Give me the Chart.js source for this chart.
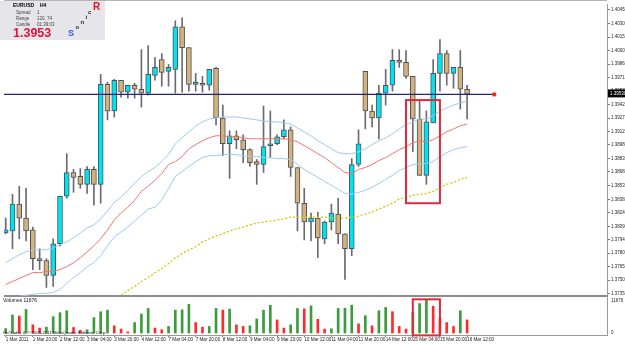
<!DOCTYPE html>
<html>
<head>
<meta charset="utf-8">
<title>EURUSD H4</title>
<script src="https://cdn.jsdelivr.net/npm/chart.js@4.4.1/dist/chart.umd.min.js"></script>
<style>
  html, body { margin: 0; padding: 0; background: #fff; }
  canvas { display: block; }
</style>
</head>
<body>
<canvas id="chart" width="625" height="344"></canvas>
<script>
// EURUSD H4, 1 Mar - 16 Mar 2011, one entry per bar (bar 0 .. 68)
const opens = [1.38020, 1.38042, 1.38334, 1.38182, 1.38053, 1.37740, 1.37718, 1.37556, 1.37902, 1.38420,
  1.38679, 1.38636, 1.38550, 1.38712, 1.38550, 1.39640, 1.39349, 1.39684, 1.39554, 1.39630,
  1.39586, 1.39543, 1.39738, 1.39910, 1.39781, 1.39802, 1.40267, 1.40040, 1.39640, 1.39651,
  1.39630, 1.39813, 1.39273, 1.38992, 1.39079, 1.39036, 1.38928, 1.38798, 1.38766, 1.38971,
  1.38992, 1.39068, 1.39144, 1.38733, 1.38344, 1.38139, 1.38182, 1.37956, 1.38139, 1.38226,
  1.38010, 1.37848, 1.38766, 1.39781, 1.39349, 1.39273, 1.39543, 1.39630, 1.39900, 1.39878,
  1.39727, 1.39262, 1.38647, 1.39219, 1.39759, 1.39975, 1.39759, 1.39824, 1.39586]
const highs = [1.38182, 1.38442, 1.38528, 1.38506, 1.38085, 1.37848, 1.37740, 1.37956, 1.38420, 1.38884,
  1.38712, 1.38722, 1.38744, 1.38744, 1.39748, 1.39662, 1.39694, 1.39684, 1.39630, 1.39651,
  1.40018, 1.40062, 1.39932, 1.39975, 1.39856, 1.40332, 1.40364, 1.40040, 1.39759, 1.39727,
  1.39802, 1.39824, 1.39414, 1.39133, 1.39133, 1.39090, 1.38938, 1.38820, 1.39403, 1.39349,
  1.39090, 1.39252, 1.39176, 1.38733, 1.38506, 1.38236, 1.38247, 1.38150, 1.38334, 1.38398,
  1.38010, 1.38830, 1.39144, 1.39781, 1.39414, 1.39630, 1.39802, 1.40018, 1.40018, 1.40008,
  1.39727, 1.39468, 1.39349, 1.39910, 1.40126, 1.40008, 1.39824, 1.40008, 1.39630]
const lows = [1.38010, 1.37848, 1.37956, 1.37934, 1.37621, 1.37621, 1.37426, 1.37437, 1.37880, 1.38398,
  1.38463, 1.38506, 1.38452, 1.38323, 1.38344, 1.39252, 1.39284, 1.39500, 1.39489, 1.39489,
  1.39392, 1.39522, 1.39684, 1.39619, 1.39619, 1.39543, 1.39554, 1.39565, 1.39565, 1.39554,
  1.39576, 1.39198, 1.38863, 1.38614, 1.38938, 1.38787, 1.38744, 1.38550, 1.38679, 1.38841,
  1.38982, 1.39046, 1.38636, 1.38042, 1.37945, 1.37934, 1.37750, 1.37902, 1.38053, 1.37902,
  1.37513, 1.37772, 1.38744, 1.39154, 1.39176, 1.39046, 1.39414, 1.39565, 1.39824, 1.39705,
  1.38906, 1.38647, 1.38550, 1.39219, 1.39565, 1.39630, 1.39597, 1.39370, 1.39262]
const closes = [1.38053, 1.38334, 1.38182, 1.38042, 1.37740, 1.37718, 1.37556, 1.37902, 1.38420, 1.38679,
  1.38625, 1.38550, 1.38712, 1.38550, 1.39640, 1.39349, 1.39684, 1.39554, 1.39630, 1.39586,
  1.39543, 1.39748, 1.39824, 1.39770, 1.39824, 1.40267, 1.40040, 1.39640, 1.39662, 1.39630,
  1.39802, 1.39273, 1.38992, 1.39079, 1.39036, 1.38928, 1.38787, 1.38766, 1.38960, 1.38992,
  1.39068, 1.39144, 1.38733, 1.38344, 1.38139, 1.38182, 1.37966, 1.38139, 1.38236, 1.38010,
  1.37848, 1.38766, 1.38992, 1.39349, 1.39273, 1.39543, 1.39630, 1.39900, 1.39878, 1.39727,
  1.39262, 1.38647, 1.39230, 1.39759, 1.39975, 1.39759, 1.39824, 1.39586, 1.39532]
const volumes = [1500, 6058, 5728, 7931, 2754, 1652, 1983, 5508, 6829, 7490,
  1873, 881, 1102, 5177, 7160, 7711, 2423, 1322, 400, 3525,
  6389, 8261, 1652, 1102, 2203, 7711, 7800, 9693, 3525, 1983,
  2203, 8261, 7711, 8041, 2754, 2203, 2423, 4736, 7711, 9363,
  4406, 1652, 2754, 8261, 8150, 9142, 4626, 1322, 1432, 8261,
  8350, 9363, 3084, 5838, 2423, 7490, 8592, 7160, 2203, 1322,
  7000, 9913, 11235, 9032, 5000, 3525, 2203, 7490, 4406]

// envelope around the mid average, plus the slow average
const upperBand = [1.37696, 1.37740, 1.37783, 1.37815, 1.37837, 1.37837, 1.37837, 1.37858, 1.37891, 1.37923,
  1.37966, 1.38020, 1.38074, 1.38107, 1.38172, 1.38258, 1.38355, 1.38409, 1.38485, 1.38560,
  1.38636, 1.38690, 1.38733, 1.38798, 1.38874, 1.38992, 1.39057, 1.39122, 1.39187, 1.39230,
  1.39262, 1.39273, 1.39284, 1.39284, 1.39284, 1.39273, 1.39262, 1.39252, 1.39241, 1.39230,
  1.39230, 1.39219, 1.39208, 1.39165, 1.39122, 1.39079, 1.39025, 1.38982, 1.38938, 1.38895,
  1.38884, 1.38884, 1.38906, 1.38938, 1.38982, 1.39025, 1.39057, 1.39100, 1.39154, 1.39198,
  1.39230, 1.39262, 1.39262, 1.39295, 1.39349, 1.39381, 1.39414, 1.39435, 1.39457]
const middleBand = [1.37459, 1.37491, 1.37524, 1.37556, 1.37588, 1.37588, 1.37599, 1.37599, 1.37621, 1.37653,
  1.37696, 1.37750, 1.37815, 1.37880, 1.37956, 1.38053, 1.38161, 1.38236, 1.38301, 1.38377,
  1.38474, 1.38528, 1.38593, 1.38668, 1.38766, 1.38798, 1.38852, 1.38938, 1.38982, 1.39025,
  1.39057, 1.39079, 1.39079, 1.39068, 1.39068, 1.39057, 1.39046, 1.39046, 1.39046, 1.39046,
  1.39046, 1.39046, 1.39036, 1.39014, 1.38971, 1.38928, 1.38884, 1.38841, 1.38787, 1.38733,
  1.38679, 1.38668, 1.38712, 1.38733, 1.38766, 1.38809, 1.38841, 1.38884, 1.38928, 1.38960,
  1.39003, 1.39025, 1.39014, 1.39036, 1.39079, 1.39122, 1.39154, 1.39187, 1.39208]
const lowerBand = [1.37286, 1.37308, 1.37329, 1.37340, 1.37351, 1.37362, 1.37362, 1.37372, 1.37405, 1.37470,
  1.37534, 1.37588, 1.37653, 1.37696, 1.37772, 1.37880, 1.37977, 1.38031, 1.38085, 1.38150,
  1.38215, 1.38280, 1.38301, 1.38377, 1.38506, 1.38636, 1.38690, 1.38744, 1.38798, 1.38841,
  1.38863, 1.38863, 1.38874, 1.38874, 1.38874, 1.38863, 1.38852, 1.38852, 1.38841, 1.38841,
  1.38830, 1.38830, 1.38820, 1.38766, 1.38712, 1.38668, 1.38625, 1.38582, 1.38539, 1.38496,
  1.38452, 1.38442, 1.38463, 1.38485, 1.38517, 1.38560, 1.38604, 1.38647, 1.38701, 1.38733,
  1.38766, 1.38776, 1.38776, 1.38798, 1.38852, 1.38895, 1.38928, 1.38949, 1.38960]
const slowMa = [null, null, null, null, null, null, null, null, null, null,
  null, null, null, null, null, null, 1.37297, 1.37340, 1.37394, 1.37437,
  1.37491, 1.37534, 1.37588, 1.37632, 1.37686, 1.37750, 1.37794, 1.37837, 1.37869, 1.37923,
  1.37956, 1.37988, 1.38010, 1.38042, 1.38064, 1.38085, 1.38107, 1.38128, 1.38139, 1.38150,
  1.38161, 1.38172, 1.38193, 1.38193, 1.38193, 1.38193, 1.38193, 1.38193, 1.38182, 1.38182,
  1.38182, 1.38193, 1.38204, 1.38226, 1.38247, 1.38280, 1.38312, 1.38344, 1.38388, 1.38409,
  1.38431, 1.38442, 1.38452, 1.38474, 1.38517, 1.38550, 1.38571, 1.38604, 1.38625]

const timeLabels = ['1 Mar 2011', '1 Mar 20:00', '2 Mar 12:00', '3 Mar 04:00', '3 Mar 20:00', '4 Mar 12:00',
  '7 Mar 04:00', '7 Mar 20:00', '8 Mar 12:00', '9 Mar 04:00', '9 Mar 20:00', '10 Mar 12:00',
  '11 Mar 04:00', '11 Mar 20:00', '14 Mar 12:00', '15 Mar 04:00', '15 Mar 20:00', '16 Mar 12:00']
const timeTickBars = [0, 4, 8, 12, 16, 20, 24, 28, 32, 36, 40, 44, 48, 52, 56, 60, 64, 68]
const priceTicks = [1.40450, 1.40300, 1.40155, 1.40005, 1.39860, 1.39715, 1.39570, 1.39420, 1.39270, 1.39125,
  1.38980, 1.38830, 1.38685, 1.38535, 1.38385, 1.38240, 1.38090, 1.37945, 1.37800, 1.37650, 1.37505, 1.37355]
const lastPrice = 1.3953
const volumeScaleMax = 11676

// marked zones (bars / prices / volumes)
const zoneMain = { fromBar: 59, toBar: 64, high: 1.39468, low: 1.38344 }
const zoneVolume = { fromBar: 60, toBar: 64, high: 11342, low: -800 }
const priceLineEndBar = 72

const FONT = "'Liberation Sans', Arial, sans-serif"
const panelClip = { left: 0, top: 0, right: 0, bottom: -39 }

const bull = '#00e3ee'
const bear = '#d4b27c'
const bars = opens.map((o, i) => i)

const chrome = {
  id: 'chrome',
  beforeDatasetsDraw(chart) {
    const { ctx, chartArea: a } = chart
    ctx.save()
    ctx.fillStyle = '#8c8c8c'
    ctx.fillRect(a.left, a.bottom - 40, a.right - a.left, 2)
    ctx.fillStyle = '#b4b4b4'
    ctx.fillRect(a.left, 0, a.right - a.left, 1)
    ctx.restore()
  },
  afterDraw(chart) {
    const { ctx, scales: { x, y, yv } } = chart
    ctx.save()

    // marked zones
    ctx.strokeStyle = '#e3283c'
    ctx.lineWidth = 2
    ;[[zoneMain, y], [zoneVolume, yv]].forEach(([z, s]) => {
      const x0 = x.getPixelForValue(z.fromBar)
      const x1 = x.getPixelForValue(z.toBar)
      const y0 = s.getPixelForValue(z.high)
      const y1 = s.getPixelForValue(z.low)
      ctx.strokeRect(x0, y0, x1 - x0, y1 - y0)
    })

    // bid label on the price axis
    const py = y.getPixelForValue(lastPrice)
    ctx.fillStyle = '#000'
    ctx.fillRect(608, py - 5, 17, 8)
    ctx.fillStyle = '#fff'
    ctx.font = `4.5px ${FONT}`
    ctx.textBaseline = 'middle'
    ctx.fillText(lastPrice.toFixed(5), 610, py - 1)

    // volume window labels
    ctx.fillStyle = '#222'
    ctx.fillText(String(volumeScaleMax), 611, yv.getPixelForValue(volumeScaleMax) + 2)
    ctx.fillText('0', 611, yv.getPixelForValue(0))
    ctx.font = `5px ${FONT}`
    ctx.fillStyle = '#111'
    ctx.fillText('Volumes ' + volumeScaleMax, 3, 301)
    ctx.font = `4.3px ${FONT}`
    ctx.fillText('GoTrader 4, \u00a9 2001-2011 MetaQuotes Software Corp.', 3, 332.5)

    // info box
    ctx.fillStyle = '#e6e6ea'
    ctx.fillRect(0, 1, 105, 39)
    ctx.fillStyle = '#000'
    ctx.font = `bold 5px ${FONT}`
    ctx.fillText('EURUSD', 13, 6)
    ctx.fillText('H4', 40, 6)
    ctx.fillStyle = '#444'
    ctx.font = `4.5px ${FONT}`
    ctx.fillText('Spread', 16, 12.5)
    ctx.fillText('1', 37, 12.5)
    ctx.fillText('Range', 16, 18.5)
    ctx.fillText('120, 74', 37, 18.5)
    ctx.fillText('Candle', 16, 24.5)
    ctx.fillText('01:39:03', 37, 24.5)
    ctx.fillStyle = '#e0123a'
    ctx.font = `bold 12.5px ${FONT}`
    ctx.fillText(lastPrice.toFixed(4), 13, 33.5)
    ctx.fillStyle = '#3a50e6'
    ctx.font = `bold 9px ${FONT}`
    ctx.fillText('S', 68, 33.5)
    ctx.fillStyle = '#222'
    ctx.font = `bold 6px ${FONT}`
    ctx.fillText('o', 75.5, 27.5)
    ctx.fillText('n', 80.5, 22.5)
    ctx.fillText('i', 85.5, 17)
    ctx.fillText('c', 88, 12)
    ctx.fillStyle = '#e8101e'
    ctx.font = `bold 10px ${FONT}`
    ctx.fillText('R', 93, 7)
    ctx.restore()
  }
}

new Chart(document.getElementById('chart'), {
  type: 'bar',
  data: {
    datasets: [
      {
        type: 'line',
        data: [{ x: -0.25, y: lastPrice }, { x: priceLineEndBar, y: lastPrice }],
        borderColor: '#23237a',
        borderWidth: 1.3,
        pointRadius: [0, 2.2],
        pointBackgroundColor: '#ff2a00',
        pointBorderWidth: 0,
        order: 0
      },
      {
        type: 'line',
        data: bars.map(i => ({ x: i, y: upperBand[i] })),
        borderColor: '#9cc9f2',
        borderWidth: 1,
        pointRadius: 0,
        clip: panelClip,
        order: 1
      },
      {
        type: 'line',
        data: bars.map(i => ({ x: i, y: middleBand[i] })),
        borderColor: '#f0766a',
        borderWidth: 1,
        pointRadius: 0,
        clip: panelClip,
        order: 1
      },
      {
        type: 'line',
        data: bars.map(i => ({ x: i, y: lowerBand[i] })),
        borderColor: '#9cc9f2',
        borderWidth: 1,
        pointRadius: 0,
        clip: panelClip,
        order: 1
      },
      {
        type: 'line',
        data: bars.map(i => ({ x: i, y: slowMa[i] })),
        borderColor: '#cfc800',
        borderWidth: 1.3,
        borderDash: [2, 2],
        pointRadius: 0,
        clip: panelClip,
        order: 2
      },
      {
        data: bars.map(i => ({ x: i, y: [opens[i], closes[i]] })),
        backgroundColor: bars.map(i => (closes[i] >= opens[i] ? bull : bear)),
        borderColor: '#505058',
        borderWidth: 1,
        borderSkipped: false,
        barThickness: 5,
        grouped: false,
        clip: panelClip,
        order: 4
      },
      {
        data: bars.map(i => ({ x: i, y: [lows[i], highs[i]] })),
        backgroundColor: '#6a6a74',
        barThickness: 1,
        grouped: false,
        clip: panelClip,
        order: 5
      },
      {
        yAxisID: 'yv',
        data: bars.map(i => ({ x: i, y: volumes[i] })),
        backgroundColor: bars.map(i => (i === 0 || volumes[i] > volumes[i - 1] ? '#3a9c3a' : '#ff2b2b')),
        barThickness: 2,
        grouped: false,
        order: 6
      }
    ]
  },
  options: {
    responsive: false,
    animation: false,
    events: [],
    layout: { padding: { top: 1, left: 0, right: 0, bottom: 0 } },
    plugins: { legend: { display: false }, tooltip: { enabled: false } },
    scales: {
      x: {
        type: 'linear',
        min: -0.25,
        max: 88.62,
        offset: false,
        afterBuildTicks: s => { s.ticks = timeTickBars.map(v => ({ value: v })) },
        afterFit: s => { s.height = 9; s.paddingLeft = 0; s.paddingRight = 0 },
        ticks: {
          autoSkip: false,
          maxRotation: 0,
          minRotation: 0,
          align: 'start',
          padding: 0,
          color: '#222',
          font: { size: 4.6, family: FONT },
          callback: (v, i) => timeLabels[i]
        },
        grid: { drawOnChartArea: false, offset: false, tickLength: 2, color: '#777' },
        border: { color: '#9a9a9a', dash: [1, 1] }
      },
      y: {
        position: 'right',
        min: 1.36908,
        max: 1.40515,
        afterBuildTicks: s => { s.ticks = priceTicks.map(v => ({ value: v })) },
        afterFit: s => { s.width = 18; s.paddingTop = 0; s.paddingBottom = 0 },
        ticks: {
          autoSkip: false,
          padding: 1,
          color: '#222',
          font: { size: 4.5, family: FONT },
          callback: v => v.toFixed(5)
        },
        grid: { drawOnChartArea: false, tickLength: 3, color: '#777' },
        border: { color: '#9a9a9a' }
      },
      yv: {
        display: false,
        min: -667,
        max: 110755
      }
    }
  },
  plugins: [chrome]
})
</script>
</body>
</html>
